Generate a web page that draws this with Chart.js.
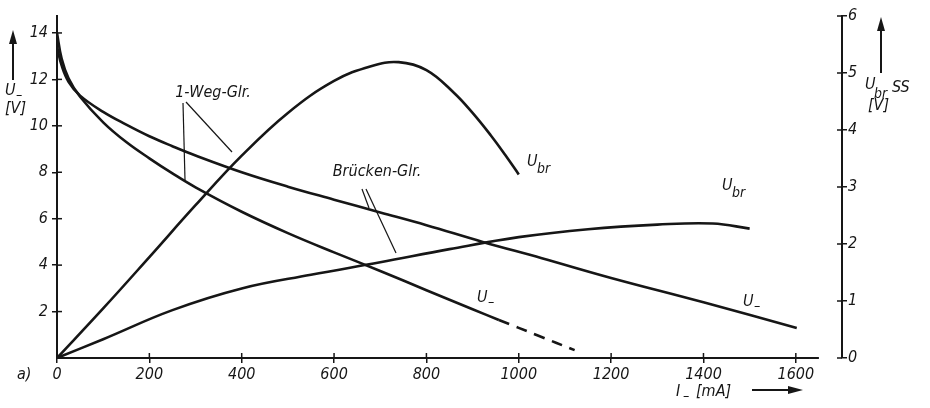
<!DOCTYPE html>
<html>
<head>
<meta charset="utf-8">
<script src="https://cdn.jsdelivr.net/npm/chart.js@4.4.1/dist/chart.umd.min.js"></script>
<style>
  html, body { margin: 0; padding: 0; background: #fff; }
</style>
</head>
<body>
<canvas id="myChart" width="930" height="408"></canvas>
<script>
// currents in mA, voltages in V
const wegU_I = [0, 10, 25, 50, 100, 150, 200, 250, 300, 400, 500, 600, 700, 800, 900, 957];
const wegU_V = [14.0, 12.9, 12.05, 11.25, 10.15, 9.3, 8.6, 7.95, 7.35, 6.3, 5.38, 4.55, 3.75, 2.92, 2.1, 1.64];

const wegUdash_I = [957, 1040, 1121];
const wegUdash_V = [1.64, 0.98, 0.34];

const brU_I = [0, 10, 25, 50, 100, 150, 200, 250, 300, 400, 500, 600, 700, 800, 922, 1050, 1200, 1400, 1602];
const brU_V = [13.4, 12.6, 11.9, 11.3, 10.6, 10.05, 9.55, 9.12, 8.72, 8.0, 7.38, 6.82, 6.27, 5.72, 5.0, 4.3, 3.45, 2.4, 1.29];

// ripple voltage U_br SS, right axis
const wegBr_I = [0, 100, 200, 300, 400, 500, 600, 680, 740, 800, 860, 900, 940, 970, 1000];
const wegBr_V = [0, 0.87, 1.77, 2.68, 3.55, 4.3, 4.86, 5.12, 5.19, 5.05, 4.65, 4.3, 3.9, 3.57, 3.22];

const brBr_I = [0, 100, 250, 400, 550, 700, 850, 1000, 1150, 1300, 1420, 1500];
const brBr_V = [0, 0.33, 0.84, 1.22, 1.46, 1.68, 1.91, 2.12, 2.26, 2.34, 2.36, 2.27];

const xTicks = [0, 200, 400, 600, 800, 1000, 1200, 1400, 1600];
const leftTicks = [2, 4, 6, 8, 10, 12, 14];
const rightTicks = [0, 1, 2, 3, 4, 5, 6];

const INK = '#161616';
const FONT = "'DejaVu Sans Condensed', 'DejaVu Sans', sans-serif";

function toPoints(xs, ys) {
  return xs.map((x, i) => ({ x: x, y: ys[i] }));
}

function curve(xs, ys, axis, dash) {
  return {
    data: toPoints(xs, ys),
    yAxisID: axis,
    borderColor: INK,
    borderWidth: 2.6,
    borderDash: dash || [],
    pointRadius: 0,
    tension: 0.4,
    fill: false
  };
}

const data = {
  datasets: [
    curve(wegU_I, wegU_V, 'y'),
    curve(wegUdash_I, wegUdash_V, 'y', [11, 8]),
    curve(brU_I, brU_V, 'y'),
    curve(wegBr_I, wegBr_V, 'y2'),
    curve(brBr_I, brBr_V, 'y2')
  ]
};

function itext(ctx, s, x, y, size, align) {
  ctx.font = 'italic ' + size + 'px ' + FONT;
  ctx.textAlign = align || 'left';
  ctx.textBaseline = 'middle';
  ctx.fillText(s, x, y);
}

function line(ctx, x1, y1, x2, y2, w) {
  ctx.lineWidth = w;
  ctx.beginPath();
  ctx.moveTo(x1, y1);
  ctx.lineTo(x2, y2);
  ctx.stroke();
}

// U with subscript br
function ubr(ctx, x, y) {
  itext(ctx, 'U', x, y, 16);
  itext(ctx, 'br', x + 10, y + 7, 14);
}
// U with low dash
function uminus(ctx, x, y) {
  itext(ctx, 'U', x, y, 16);
  itext(ctx, '–', x + 11, y + 4, 14);
}

// inner half of the tick marks + x axis line + labels
const drawing = {
  id: 'drawing',
  afterDraw(chart) {
    const ctx = chart.ctx;
    const xs = chart.scales.x, yl = chart.scales.y, yr = chart.scales.y2;
    ctx.save();
    ctx.strokeStyle = INK;
    ctx.fillStyle = INK;

    // x axis line, stops short of the right axis
    line(ctx, xs.getPixelForValue(0) - 1, xs.top, xs.getPixelForValue(1650), xs.top, 2);
    xTicks.forEach(v => {
      const px = xs.getPixelForValue(v);
      line(ctx, px, xs.top - 5, px, xs.top, 1.5);
    });
    leftTicks.forEach(v => {
      const py = yl.getPixelForValue(v);
      line(ctx, yl.right, py, yl.right + 5, py, 1.5);
    });
    rightTicks.forEach(v => {
      const py = yr.getPixelForValue(v);
      line(ctx, yr.left - 5, py, yr.left, py, 1.5);
    });

    // curve names and pointers
    itext(ctx, '1-Weg-Glr.', 213, 93, 16, 'center');
    line(ctx, 183, 103, 185, 180, 1.2);
    line(ctx, 186, 102, 232, 152, 1.2);
    itext(ctx, 'Brücken-Glr.', 377, 172, 16, 'center');
    line(ctx, 362, 189, 369, 208, 1.2);
    line(ctx, 366, 189, 396, 253, 1.2);

    ubr(ctx, 527, 162);
    ubr(ctx, 722, 186);
    uminus(ctx, 477, 298);
    uminus(ctx, 743, 302);

    // left axis title
    line(ctx, 13, 80, 13, 40, 2);
    ctx.beginPath();
    ctx.moveTo(13, 30); ctx.lineTo(9, 44); ctx.lineTo(17, 44); ctx.closePath(); ctx.fill();
    uminus(ctx, 5, 91);
    itext(ctx, '[V]', 5, 109, 16);

    // right axis title
    line(ctx, 881, 73, 881, 28, 2);
    ctx.beginPath();
    ctx.moveTo(881, 17); ctx.lineTo(877, 31); ctx.lineTo(885, 31); ctx.closePath(); ctx.fill();
    itext(ctx, 'U', 865, 85, 16);
    itext(ctx, 'br', 874, 94, 14);
    itext(ctx, 'SS', 892, 88, 16);
    itext(ctx, '[V]', 868, 106, 16);

    // x axis title
    itext(ctx, 'I', 676, 392, 16);
    itext(ctx, '–', 683, 396, 14);
    itext(ctx, '[mA]', 696, 392, 16);
    line(ctx, 752, 390, 790, 390, 2);
    ctx.beginPath();
    ctx.moveTo(803, 390); ctx.lineTo(788, 386); ctx.lineTo(788, 394); ctx.closePath(); ctx.fill();

    itext(ctx, 'a)', 17, 375, 16);
    ctx.restore();
  }
};

const tickFont = { family: FONT, size: 16, style: 'italic' };
const plainLabel = v => String(v);

const config = {
  type: 'line',
  data: data,
  options: {
    responsive: false,
    animation: false,
    layout: { padding: { top: 16, left: 0, right: 0, bottom: 0 } },
    plugins: {
      legend: { display: false },
      tooltip: { enabled: false }
    },
    scales: {
      x: {
        type: 'linear',
        min: 0,
        max: 1700,
        afterFit(scale) { scale.height = 50; },
        afterBuildTicks(scale) { scale.ticks = xTicks.map(v => ({ value: v })); },
        border: { display: false },
        grid: { drawOnChartArea: false, drawTicks: true, tickLength: 5, color: INK, lineWidth: 1.5 },
        ticks: { color: INK, font: tickFont, padding: 2, maxRotation: 0, autoSkip: false, callback: plainLabel }
      },
      y: {
        position: 'left',
        min: 0,
        max: 14.73,
        afterFit(scale) { scale.width = 57; },
        afterBuildTicks(scale) { scale.ticks = leftTicks.map(v => ({ value: v })); },
        border: { display: true, color: INK, width: 2 },
        grid: { drawOnChartArea: false, drawTicks: true, tickLength: 5, color: INK, lineWidth: 1.5 },
        ticks: { color: INK, font: tickFont, padding: 4, autoSkip: false, callback: plainLabel }
      },
      y2: {
        position: 'right',
        min: 0,
        max: 6,
        afterFit(scale) { scale.width = 88; },
        afterBuildTicks(scale) { scale.ticks = rightTicks.map(v => ({ value: v })); },
        border: { display: true, color: INK, width: 2 },
        grid: { drawOnChartArea: false, drawTicks: true, tickLength: 5, color: INK, lineWidth: 1.5 },
        ticks: { color: INK, font: tickFont, padding: 1, autoSkip: false, callback: plainLabel }
      }
    }
  },
  plugins: [drawing]
};

const myChart = new Chart(document.getElementById('myChart'), config);
</script>
</body>
</html>
